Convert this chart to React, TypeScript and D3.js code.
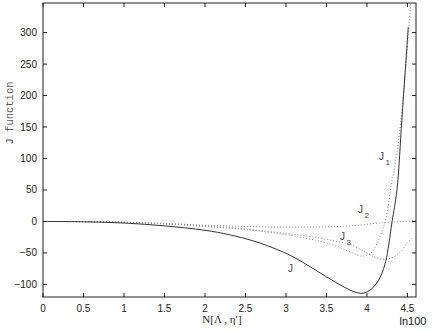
import React, { useEffect, useRef } from 'react';
import * as d3 from 'd3';

// J (solid) and the three approximations J1, J2, J3 (dotted)
const jX = [0, 0.5, 1, 1.5, 2, 2.3, 2.6, 2.9, 3.1, 3.3, 3.5, 3.7, 3.85, 3.95, 4.05, 4.12, 4.18, 4.23, 4.27, 4.31, 4.37, 4.43, 4.47, 4.51];
const jY = [0, -0.5, -2.5, -7, -14, -21, -31, -45, -57, -72, -88, -103, -112, -114, -108, -98, -84, -64, -36, 0, 50, 161, 235, 309];

const j1X = [0, 0.5, 1, 1.5, 2, 2.5, 3, 3.3, 3.6, 3.8, 3.95, 4.05, 4.12, 4.18, 4.23, 4.3, 4.36, 4.41, 4.47, 4.54];
const j1Y = [0, -0.5, -1.5, -4, -8, -13, -21, -28, -38, -49, -55, -50, -36, -17, 2, 58, 100, 150, 230, 346];

const j2X = [0, 0.5, 1, 1.5, 2, 2.5, 3, 3.5, 3.8, 4.2, 4.6];
const j2Y = [0, -0.3, -1.2, -3, -6, -8, -9, -8.5, -7, -2, 1];

const j3X = [0, 0.5, 1, 1.5, 2, 2.5, 3, 3.3, 3.6, 3.8, 4.0, 4.1, 4.25, 4.4, 4.49, 4.55];
const j3Y = [0, -0.4, -1.5, -3.5, -7, -12, -19, -24, -31, -37, -50, -57, -60, -50, -35, -27];

const xTicks = [0, 0.5, 1, 1.5, 2, 2.5, 3, 3.5, 4, 4.5];
const yTicks = [-100, -50, 0, 50, 100, 150, 200, 250, 300];

const curveLabels = [
  { name: 'J', sub: '', x: 288, y: 272 },
  { name: 'J', sub: '1', x: 379, y: 160 },
  { name: 'J', sub: '2', x: 358, y: 213 },
  { name: 'J', sub: '3', x: 340, y: 240 },
];

const App = () => {
  const svgRef = useRef<SVGSVGElement>(null);
  const width = 436;
  const height = 330;

  useEffect(() => {
    const svg = d3.select(svgRef.current);
    svg.selectAll('*').remove();

    const margin = { top: 3, right: 20, bottom: 33, left: 43 };
    const innerWidth = width - margin.left - margin.right;
    const innerHeight = height - margin.top - margin.bottom;

    const x = d3.scaleLinear().domain([0, Math.log(100)]).range([margin.left, margin.left + innerWidth]);
    const y = d3.scaleLinear().domain([-120, 347]).range([margin.top + innerHeight, margin.top]);

    const axisColor = '#222';
    const sans = '"Liberation Sans", Arial, sans-serif';

    // clip
    svg.append('defs').append('clipPath').attr('id', 'plotclip')
      .append('rect')
      .attr('x', margin.left).attr('y', margin.top)
      .attr('width', innerWidth).attr('height', innerHeight);

    const line = d3.line<[number, number]>()
      .x(d => x(d[0]))
      .y(d => y(d[1]))
      .curve(d3.curveCatmullRom.alpha(0.5));

    const series = [
      { xs: j2X, ys: j2Y, dash: '1,2', color: '#888' },
      { xs: j3X, ys: j3Y, dash: '1,2', color: '#888' },
      { xs: j1X, ys: j1Y, dash: '1,2', color: '#888' },
      { xs: jX, ys: jY, dash: null, color: '#333' },
    ];

    const plot = svg.append('g').attr('clip-path', 'url(#plotclip)');
    series.forEach(s => {
      const pts = s.xs.map((v, i) => [v, s.ys[i]] as [number, number]);
      plot.append('path')
        .datum(pts)
        .attr('fill', 'none')
        .attr('stroke', s.color)
        .attr('stroke-width', 1)
        .attr('stroke-dasharray', s.dash)
        .attr('d', line);
    });

    // frame
    svg.append('rect')
      .attr('x', margin.left).attr('y', margin.top)
      .attr('width', innerWidth).attr('height', innerHeight)
      .attr('fill', 'none').attr('stroke', axisColor).attr('stroke-width', 1);

    const tl = 4;
    const ticks = svg.append('g').attr('stroke', axisColor).attr('stroke-width', 1);
    xTicks.forEach(t => {
      ticks.append('line').attr('x1', x(t)).attr('x2', x(t))
        .attr('y1', margin.top + innerHeight).attr('y2', margin.top + innerHeight - tl);
      ticks.append('line').attr('x1', x(t)).attr('x2', x(t))
        .attr('y1', margin.top).attr('y2', margin.top + tl);
    });
    yTicks.forEach(t => {
      ticks.append('line').attr('x1', margin.left).attr('x2', margin.left + tl)
        .attr('y1', y(t)).attr('y2', y(t));
      ticks.append('line').attr('x1', margin.left + innerWidth).attr('x2', margin.left + innerWidth - tl)
        .attr('y1', y(t)).attr('y2', y(t));
    });

    // tick labels
    svg.append('g').selectAll('text').data(xTicks).enter().append('text')
      .attr('x', d => x(d)).attr('y', margin.top + innerHeight + 15)
      .attr('text-anchor', 'middle')
      .style('font-family', sans).style('font-size', '10px').attr('fill', axisColor)
      .text(d => String(d));

    svg.append('g').selectAll('text').data(yTicks).enter().append('text')
      .attr('x', margin.left - 6).attr('y', d => y(d) + 3.5)
      .attr('text-anchor', 'end')
      .style('font-family', sans).style('font-size', '10px').attr('fill', axisColor)
      .text(d => (d < 0 ? '\u2212' + Math.abs(d) : String(d)));

    // axis labels
    svg.append('text')
      .attr('transform', 'translate(13,113) rotate(-90)')
      .attr('text-anchor', 'middle')
      .style('font-family', '"Liberation Mono", monospace').style('font-size', '10.5px')
      .attr('fill', '#555')
      .text('J function');

    svg.append('text')
      .attr('x', 222).attr('y', 323)
      .attr('text-anchor', 'middle')
      .style('font-family', '"Liberation Serif", serif').style('font-size', '11px')
      .attr('fill', axisColor)
      .text('N[\u039B , \u03B7\u2032]');

    svg.append('text')
      .attr('x', 413).attr('y', 325)
      .attr('text-anchor', 'middle')
      .style('font-family', sans).style('font-size', '11px')
      .attr('fill', axisColor)
      .text('ln100');

    // curve labels
    curveLabels.forEach(l => {
      const t = svg.append('text')
        .attr('x', l.x).attr('y', l.y)
        .style('font-family', sans).style('font-size', '10px')
        .attr('fill', '#444');
      t.append('tspan').text(l.name);
      if (l.sub) {
        t.append('tspan').attr('dx', 1.5).attr('dy', 5).style('font-size', '8px').text(l.sub);
      }
    });
  }, []);

  return (
    <svg
      ref={svgRef}
      width={width}
      height={height}
      style={{ position: 'absolute', left: 0, top: 0, background: '#fff' }}
    />
  );
};

export default App;
